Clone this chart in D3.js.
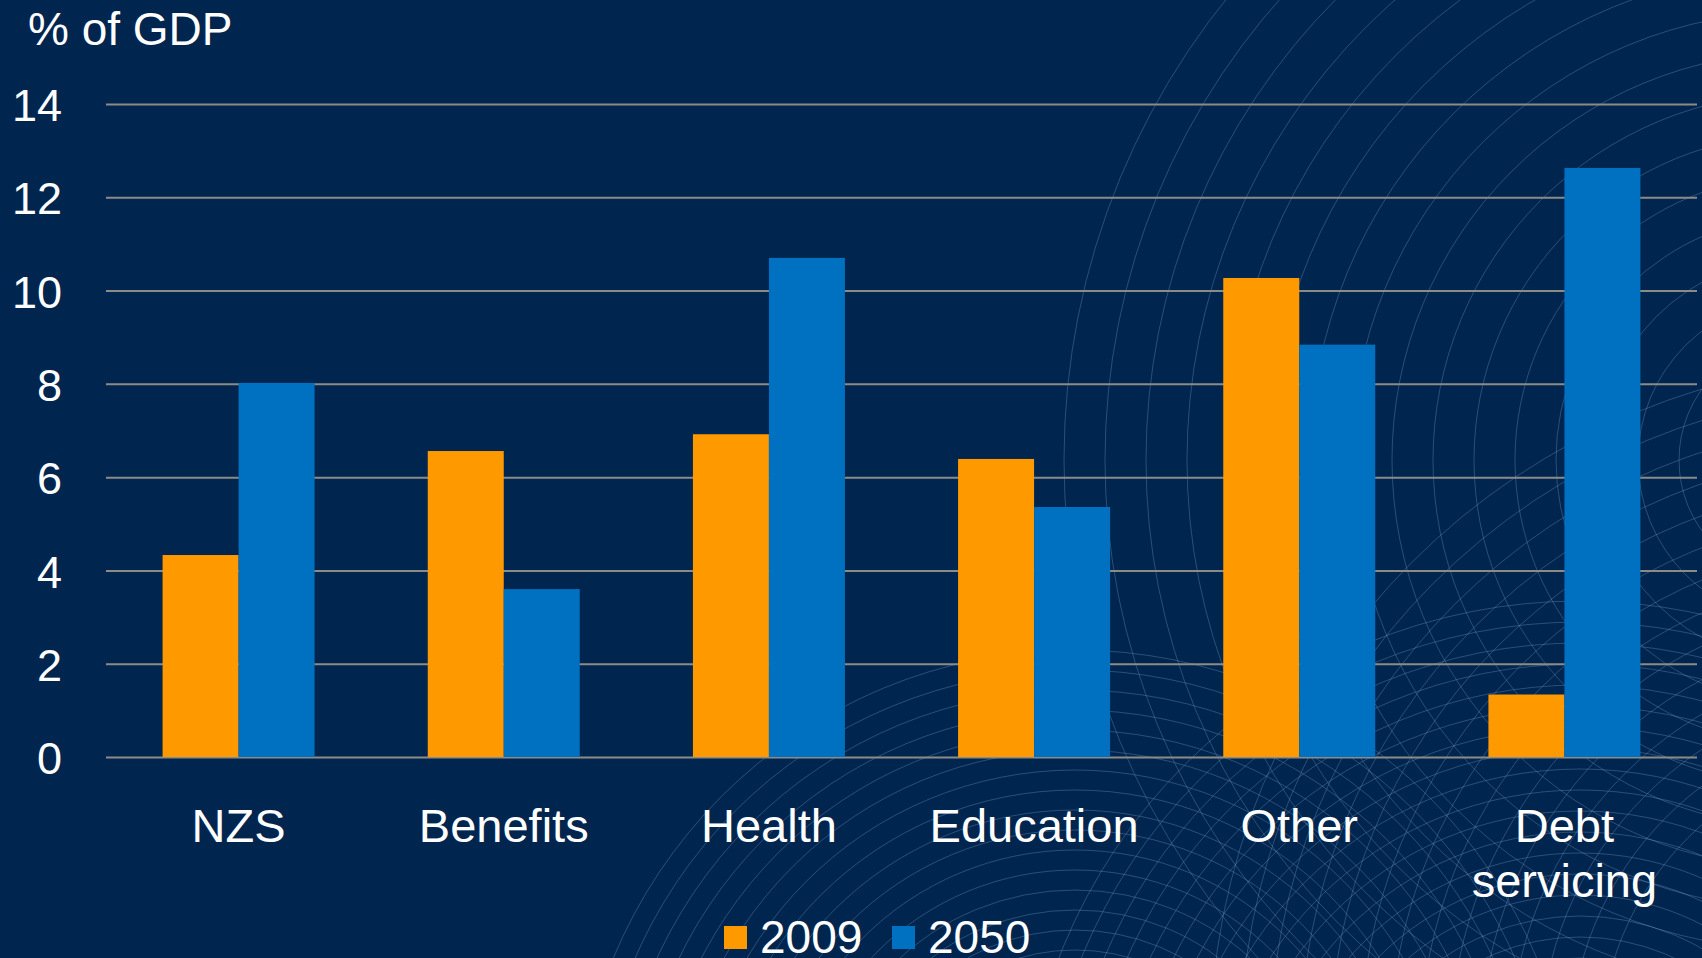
<!DOCTYPE html>
<html>
<head>
<meta charset="utf-8">
<script src="https://cdn.jsdelivr.net/npm/d3@7"></script>
<style>
  html, body { margin: 0; padding: 0; background: #00254f; overflow: hidden; }
  svg { display: block; }
  text { font-family: "Liberation Sans", Arial, sans-serif; fill: #ffffff; }
</style>
</head>
<body>
<svg id="chart" width="1702" height="958"></svg>
<script>
// ---- data ----
const categories = ["NZS", "Benefits", "Health", "Education", "Other", "Debt servicing"];
const seriesNames = ["2009", "2050"];
const values2009 = [4.33, 6.56, 6.92, 6.39, 10.27, 1.34];
const values2050 = [8.02, 3.60, 10.70, 5.36, 8.84, 12.63];
const yTicks = [0, 2, 4, 6, 8, 10, 12, 14];
const yTitle = "% of GDP";
const colors = ["#ff9900", "#0070c0"];

const W = 1702, H = 958;
const svg = d3.select("#chart");

// ---- decorative background arcs ----
const bg = svg.append("g").attr("fill", "none").attr("stroke", "rgba(140,175,215,0.30)").attr("stroke-width", 1);
const arcSets = [
  { cx: 1800, cy: 460, r0: 80, r1: 740, step: 41 },
  { cx: 1075, cy: 1150, r0: 200, r1: 515, step: 20 },
  { cx: 1580, cy: 1160, r0: 160, r1: 560, step: 21 },
  { cx: 1900, cy: 1050, r0: 300, r1: 700, step: 30 }
];
arcSets.forEach(s => {
  const radii = d3.range(s.r0, s.r1 + 1, s.step);
  bg.selectAll(null).data(radii).enter().append("circle")
    .attr("cx", s.cx).attr("cy", s.cy).attr("r", d => d);
});

// ---- scales ----
const x0 = d3.scaleBand().domain(categories).range([106, 1697]).paddingInner(0.4268).paddingOuter(0.2134);
const x1 = d3.scaleBand().domain(seriesNames).range([0, x0.bandwidth()]);
const y = d3.scaleLinear().domain([0, 14]).range([757, 104]);

// ---- grid + y axis ----
const yAxis = d3.axisLeft(y).tickValues(yTicks).tickSize(-(1697 - 106)).tickPadding(44).tickFormat(d3.format("d"));
const gy = svg.append("g").attr("transform", "translate(106,0)").call(yAxis);
gy.select(".domain").remove();
gy.selectAll(".tick line").attr("stroke", "#8c8c86").attr("stroke-width", 2);
gy.selectAll(".tick text").attr("fill", "#ffffff").attr("font-size", 45)
  .attr("font-family", "Liberation Sans, Arial, sans-serif").attr("dy", "0.37em");

svg.append("text").attr("x", 28).attr("y", 45).attr("font-size", 46).text(yTitle);

// ---- bars ----
const rows = categories.map((c, i) => ({ cat: c, vals: [values2009[i], values2050[i]] }));
const groups = svg.append("g").selectAll("g").data(rows).enter().append("g")
  .attr("transform", d => `translate(${x0(d.cat)},0)`);
groups.selectAll("rect").data(d => d.vals.map((v, j) => ({ key: seriesNames[j], v, j })))
  .enter().append("rect")
  .attr("x", d => x1(d.key))
  .attr("y", d => y(d.v))
  .attr("width", x1.bandwidth())
  .attr("height", d => y(0) - y(d.v))
  .attr("fill", d => colors[d.j]);

// ---- category labels ----
const lbl = svg.append("g").selectAll("text").data(categories).enter().append("text")
  .attr("x", d => x0(d) + x0.bandwidth() / 2)
  .attr("y", 842)
  .attr("text-anchor", "middle")
  .attr("font-size", 47);
lbl.each(function(d) {
  const words = d.split(" ");
  const t = d3.select(this);
  words.forEach((w, i) => {
    t.append("tspan").attr("x", x0(d) + x0.bandwidth() / 2).attr("dy", i === 0 ? 0 : 55).text(w);
  });
});

// ---- legend ----
const legendX = [724, 892];
const lg = svg.append("g").selectAll("g").data(seriesNames).enter().append("g")
  .attr("transform", (d, i) => `translate(${legendX[i]},0)`);
lg.append("rect").attr("x", 0).attr("y", 926).attr("width", 23).attr("height", 23).attr("fill", (d, i) => colors[i]);
lg.append("text").attr("x", 36).attr("y", 953).attr("font-size", 46).text(d => d);
</script>
</body>
</html>
